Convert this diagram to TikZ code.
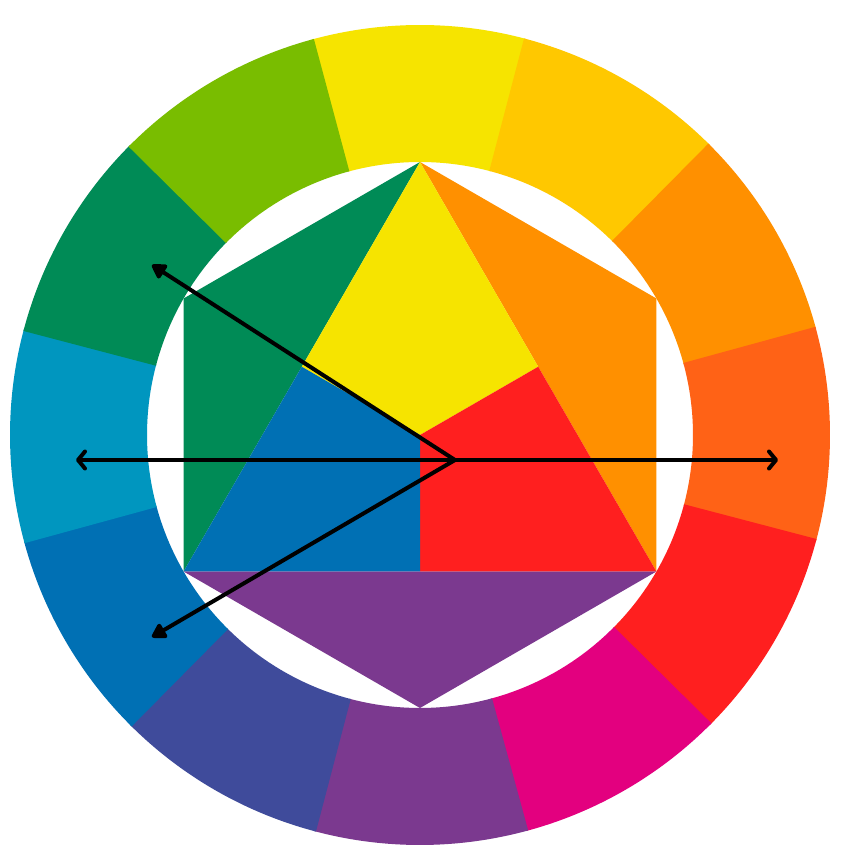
\documentclass[tikz,border=0pt]{standalone}
\usetikzlibrary{arrows.meta}
\definecolor{cY}{HTML}{F6E400}
\definecolor{cYO}{HTML}{FFC800}
\definecolor{cO}{HTML}{FF9000}
\definecolor{cRO}{HTML}{FF6216}
\definecolor{cR}{HTML}{FF1F1F}
\definecolor{cM}{HTML}{E3007F}
\definecolor{cV}{HTML}{7B398F}
\definecolor{cBV}{HTML}{3F4B9B}
\definecolor{cB}{HTML}{0070B4}
\definecolor{cBG}{HTML}{0096BF}
\definecolor{cG}{HTML}{008B56}
\definecolor{cYG}{HTML}{79BD00}
\tikzset{
  arrowline/.style={line width=4pt, black, line cap=round},
  diagtip/.style={arrowline, -{Triangle[length=16pt,width=18pt,round]}},
  flattip/.style={arrowline, -{Straight Barb[length=7pt,width=17pt,line width=4pt,round]}}
}
\begin{document}
\begin{tikzpicture}[x=1pt,y=1pt]
\useasboundingbox (0,0) rectangle (850,854);
\fill[white] (0,0) rectangle (850,854);
\coordinate (C) at (420,419);
\def\Ro{410}
\def\Ri{273}
% ring segments
\foreach \a/\col in {75/cY,45/cYO,15/cO,-15/cRO,-45/cR,-75/cM,-105/cV,-135/cBV,-165/cB,165/cBG,135/cG,105/cYG}{
  \fill[\col] ([shift={(\a:\Ro)}]C) arc[start angle=\a, end angle=\a+30.3, radius=\Ro]
     -- ([shift={(\a+30.3:\Ri)}]C) arc[start angle=\a+30.3, end angle=\a, radius=\Ri] -- cycle;
}
% hexagon vertices
\coordinate (T) at ([shift={(90:\Ri)}]C);
\coordinate (UR) at ([shift={(30:\Ri)}]C);
\coordinate (LR) at ([shift={(-30:\Ri)}]C);
\coordinate (B) at ([shift={(-90:\Ri)}]C);
\coordinate (LL) at ([shift={(-150:\Ri)}]C);
\coordinate (UL) at ([shift={(150:\Ri)}]C);
\coordinate (MR) at ([shift={(30:136.5)}]C);
\coordinate (ML) at ([shift={(150:136.5)}]C);
\coordinate (MB) at ([shift={(-90:136.5)}]C);
\fill[cG] (T) -- (UL) -- (LL) -- cycle;
\fill[cO] (T) -- (UR) -- (LR) -- cycle;
\fill[cV] (LL) -- (LR) -- (B) -- cycle;
\fill[cY] (T) -- (MR) -- (C) -- (ML) -- cycle;
\fill[cR] (MR) -- (LR) -- (MB) -- (C) -- cycle;
\fill[cB] (ML) -- (C) -- (MB) -- (LL) -- cycle;
% arrows
\coordinate (O) at (455,394);
\coordinate (AUL) at (152,589);
\coordinate (ALL) at (152,217);
\coordinate (AL) at (76,394);
\coordinate (AR) at (778,394);
\draw[diagtip] (O) -- (AUL);
\draw[diagtip] (O) -- (ALL);
\draw[flattip] (O) -- (AL);
\draw[flattip] (O) -- (AR);
\end{tikzpicture}
\end{document}
